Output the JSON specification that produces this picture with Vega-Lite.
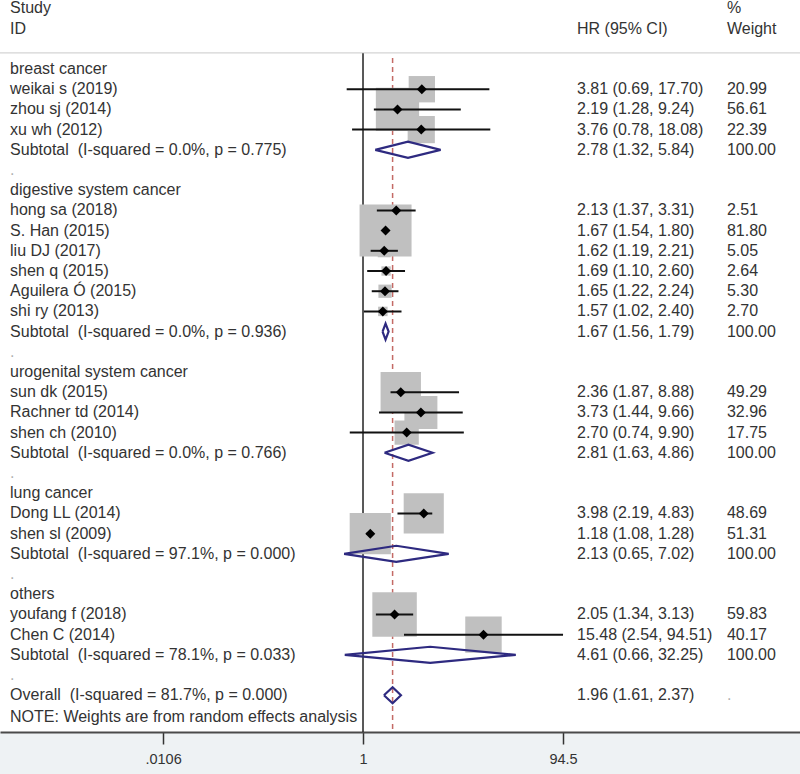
{
  "$schema": "https://vega.github.io/schema/vega-lite/v6.json",
  "width": 800,
  "height": 732,
  "autosize": "none",
  "padding": {"left": 0, "top": 0, "right": 0, "bottom": 42},
  "background": "#eef2f4",
  "view": {"fill": "white", "stroke": null},
  "config": {"font": "Liberation Sans"},
  "datasets": {
    "rows": [
      {"row": -2, "label": "Study", "hr": "", "wt": "%"},
      {"row": -1, "label": "ID", "hr": "HR (95% CI)", "wt": "Weight"},
      {"row": 1, "label": "breast cancer", "hr": "", "wt": ""},
      {"row": 2, "label": "weikai s (2019)", "hr": "3.81 (0.69, 17.70)", "wt": "20.99"},
      {"row": 3, "label": "zhou sj (2014)", "hr": "2.19 (1.28, 9.24)", "wt": "56.61"},
      {"row": 4, "label": "xu wh (2012)", "hr": "3.76 (0.78, 18.08)", "wt": "22.39"},
      {"row": 5, "label": "Subtotal\u00a0 (I-squared = 0.0%, p = 0.775)", "hr": "2.78 (1.32, 5.84)", "wt": "100.00"},
      {"row": 6, "label": ".", "hr": "", "wt": ""},
      {"row": 7, "label": "digestive system cancer", "hr": "", "wt": ""},
      {"row": 8, "label": "hong sa (2018)", "hr": "2.13 (1.37, 3.31)", "wt": "2.51"},
      {"row": 9, "label": "S. Han (2015)", "hr": "1.67 (1.54, 1.80)", "wt": "81.80"},
      {"row": 10, "label": "liu DJ (2017)", "hr": "1.62 (1.19, 2.21)", "wt": "5.05"},
      {"row": 11, "label": "shen q (2015)", "hr": "1.69 (1.10, 2.60)", "wt": "2.64"},
      {"row": 12, "label": "Aguilera Ó (2015)", "hr": "1.65 (1.22, 2.24)", "wt": "5.30"},
      {"row": 13, "label": "shi ry (2013)", "hr": "1.57 (1.02, 2.40)", "wt": "2.70"},
      {"row": 14, "label": "Subtotal\u00a0 (I-squared = 0.0%, p = 0.936)", "hr": "1.67 (1.56, 1.79)", "wt": "100.00"},
      {"row": 15, "label": ".", "hr": "", "wt": ""},
      {"row": 16, "label": "urogenital system cancer", "hr": "", "wt": ""},
      {"row": 17, "label": "sun dk (2015)", "hr": "2.36 (1.87, 8.88)", "wt": "49.29"},
      {"row": 18, "label": "Rachner td (2014)", "hr": "3.73 (1.44, 9.66)", "wt": "32.96"},
      {"row": 19, "label": "shen ch (2010)", "hr": "2.70 (0.74, 9.90)", "wt": "17.75"},
      {"row": 20, "label": "Subtotal\u00a0 (I-squared = 0.0%, p = 0.766)", "hr": "2.81 (1.63, 4.86)", "wt": "100.00"},
      {"row": 21, "label": ".", "hr": "", "wt": ""},
      {"row": 22, "label": "lung cancer", "hr": "", "wt": ""},
      {"row": 23, "label": "Dong LL (2014)", "hr": "3.98 (2.19, 4.83)", "wt": "48.69"},
      {"row": 24, "label": "shen sl (2009)", "hr": "1.18 (1.08, 1.28)", "wt": "51.31"},
      {"row": 25, "label": "Subtotal\u00a0 (I-squared = 97.1%, p = 0.000)", "hr": "2.13 (0.65, 7.02)", "wt": "100.00"},
      {"row": 26, "label": ".", "hr": "", "wt": ""},
      {"row": 27, "label": "others", "hr": "", "wt": ""},
      {"row": 28, "label": "youfang f (2018)", "hr": "2.05 (1.34, 3.13)", "wt": "59.83"},
      {"row": 29, "label": "Chen C (2014)", "hr": "15.48 (2.54, 94.51)", "wt": "40.17"},
      {"row": 30, "label": "Subtotal\u00a0 (I-squared = 78.1%, p = 0.033)", "hr": "4.61 (0.66, 32.25)", "wt": "100.00"},
      {"row": 31, "label": ".", "hr": "", "wt": ""},
      {"row": 32, "label": "Overall\u00a0 (I-squared = 81.7%, p = 0.000)", "hr": "1.96 (1.61, 2.37)", "wt": "."},
      {"row": 33.1, "label": "NOTE: Weights are from random effects analysis", "hr": "", "wt": ""}
    ],
    "studies": [
      {"row": 2, "est": 3.81, "lo": 0.69, "hi": 17.70, "w": 20.99},
      {"row": 3, "est": 2.19, "lo": 1.28, "hi": 9.24, "w": 56.61},
      {"row": 4, "est": 3.76, "lo": 0.78, "hi": 18.08, "w": 22.39},
      {"row": 8, "est": 2.13, "lo": 1.37, "hi": 3.31, "w": 2.51},
      {"row": 9, "est": 1.67, "lo": 1.54, "hi": 1.80, "w": 81.80},
      {"row": 10, "est": 1.62, "lo": 1.19, "hi": 2.21, "w": 5.05},
      {"row": 11, "est": 1.69, "lo": 1.10, "hi": 2.60, "w": 2.64},
      {"row": 12, "est": 1.65, "lo": 1.22, "hi": 2.24, "w": 5.30},
      {"row": 13, "est": 1.57, "lo": 1.02, "hi": 2.40, "w": 2.70},
      {"row": 17, "est": 2.36, "lo": 1.87, "hi": 8.88, "w": 49.29},
      {"row": 18, "est": 3.73, "lo": 1.44, "hi": 9.66, "w": 32.96},
      {"row": 19, "est": 2.70, "lo": 0.74, "hi": 9.90, "w": 17.75},
      {"row": 23, "est": 3.98, "lo": 2.19, "hi": 4.83, "w": 48.69},
      {"row": 24, "est": 1.18, "lo": 1.08, "hi": 1.28, "w": 51.31},
      {"row": 28, "est": 2.05, "lo": 1.34, "hi": 3.13, "w": 59.83},
      {"row": 29, "est": 15.48, "lo": 2.54, "hi": 94.51, "w": 40.17}
    ],
    "diamonds": [
      {"row": 5, "x": 1.32, "pt": "M", "k": 0}, {"row": 5, "x": 2.78, "pt": "T", "k": 1}, {"row": 5, "x": 5.84, "pt": "M", "k": 2}, {"row": 5, "x": 2.78, "pt": "B", "k": 3}, {"row": 5, "x": 1.32, "pt": "M", "k": 4},
      {"row": 14, "x": 1.56, "pt": "M", "k": 0}, {"row": 14, "x": 1.67, "pt": "T", "k": 1}, {"row": 14, "x": 1.79, "pt": "M", "k": 2}, {"row": 14, "x": 1.67, "pt": "B", "k": 3}, {"row": 14, "x": 1.56, "pt": "M", "k": 4},
      {"row": 20, "x": 1.63, "pt": "M", "k": 0}, {"row": 20, "x": 2.81, "pt": "T", "k": 1}, {"row": 20, "x": 4.86, "pt": "M", "k": 2}, {"row": 20, "x": 2.81, "pt": "B", "k": 3}, {"row": 20, "x": 1.63, "pt": "M", "k": 4},
      {"row": 25, "x": 0.65, "pt": "M", "k": 0}, {"row": 25, "x": 2.13, "pt": "T", "k": 1}, {"row": 25, "x": 7.02, "pt": "M", "k": 2}, {"row": 25, "x": 2.13, "pt": "B", "k": 3}, {"row": 25, "x": 0.65, "pt": "M", "k": 4},
      {"row": 30, "x": 0.66, "pt": "M", "k": 0}, {"row": 30, "x": 4.61, "pt": "T", "k": 1}, {"row": 30, "x": 32.25, "pt": "M", "k": 2}, {"row": 30, "x": 4.61, "pt": "B", "k": 3}, {"row": 30, "x": 0.66, "pt": "M", "k": 4},
      {"row": 32, "x": 1.61, "pt": "M", "k": 0}, {"row": 32, "x": 1.96, "pt": "T", "k": 1}, {"row": 32, "x": 2.37, "pt": "M", "k": 2}, {"row": 32, "x": 1.96, "pt": "B", "k": 3}, {"row": 32, "x": 1.61, "pt": "M", "k": 4}
    ]
  },
  "layer": [
    {
      "data": {"values": [{}]},
      "mark": {"type": "rule", "color": "#d4d4d4", "strokeWidth": 1.2},
      "encoding": {
        "y": {"datum": 0.2, "type": "quantitative", "scale": {"domain": [-2.416, 33.82], "reverse": true, "nice": false, "zero": false}, "axis": null}
      }
    },
    {
      "data": {"values": [{}]},
      "mark": {"type": "rule", "color": "#222222", "strokeWidth": 1.5},
      "encoding": {
        "x": {"datum": 1, "type": "quantitative", "scale": {"type": "log", "domain": [0.00026008, 20682], "nice": false},
          "axis": {"values": [0.0106, 1, 94.5], "labelExpr": "datum.value < 0.1 ? '.0106' : (datum.value < 2 ? '1' : '94.5')", "title": null, "grid": false, "tickSize": 12, "tickWidth": 1.5, "tickColor": "#333333", "domainColor": "#4a4a4a", "domainWidth": 2, "labelFont": "Liberation Sans", "labelFontSize": 14.5, "labelColor": "#333333", "labelPadding": 8}},
        "y": {"datum": 0.22, "type": "quantitative", "scale": {"domain": [-2.416, 33.82], "reverse": true, "nice": false, "zero": false}, "axis": null},
        "y2": {"datum": 33.82}
      }
    },
    {
      "data": {"values": [{}]},
      "mark": {"type": "rule", "color": "#c46a66", "strokeWidth": 1.5, "strokeDash": [5, 4]},
      "encoding": {
        "x": {"datum": 1.96, "type": "quantitative"},
        "y": {"datum": 0.45, "type": "quantitative"},
        "y2": {"datum": 33.82}
      }
    },
    {
      "data": {"name": "studies"},
      "mark": {"type": "point", "shape": "square", "filled": true, "color": "#c0c0c0", "opacity": 1},
      "encoding": {
        "x": {"field": "est", "type": "quantitative"},
        "y": {"field": "row", "type": "quantitative"},
        "size": {"field": "w", "type": "quantitative", "scale": {"type": "linear", "domain": [0, 100], "range": [0, 3306]}, "legend": null}
      }
    },
    {
      "data": {"name": "studies"},
      "mark": {"type": "rule", "color": "#111111", "strokeWidth": 2},
      "encoding": {
        "x": {"field": "lo", "type": "quantitative"},
        "x2": {"field": "hi"},
        "y": {"field": "row", "type": "quantitative"}
      }
    },
    {
      "data": {"name": "studies"},
      "mark": {"type": "point", "shape": "diamond", "filled": true, "color": "#000000", "opacity": 1, "size": 100},
      "encoding": {
        "x": {"field": "est", "type": "quantitative"},
        "y": {"field": "row", "type": "quantitative"}
      }
    },
    {
      "data": {"name": "diamonds"},
      "transform": [
        {"calculate": "datum.row + (datum.pt === 'T' ? -0.4 : (datum.pt === 'B' ? 0.4 : 0))", "as": "yv"}
      ],
      "mark": {"type": "line", "color": "#2e2a80", "strokeWidth": 2.2},
      "encoding": {
        "x": {"field": "x", "type": "quantitative"},
        "y": {"field": "yv", "type": "quantitative"},
        "detail": {"field": "row"},
        "order": {"field": "k", "type": "quantitative"}
      }
    },
    {
      "data": {"name": "rows"},
      "mark": {"type": "text", "align": "left", "baseline": "middle", "font": "Liberation Sans", "fontSize": 16},
      "encoding": {
        "x": {"datum": 0.000327, "type": "quantitative"},
        "y": {"field": "row", "type": "quantitative"},
        "text": {"field": "label"},
        "color": {"condition": {"test": "datum.label === '.'", "value": "#b0b0b0"}, "value": "#333333"}
      }
    },
    {
      "data": {"name": "rows"},
      "mark": {"type": "text", "align": "left", "baseline": "middle", "font": "Liberation Sans", "fontSize": 16, "color": "#333333"},
      "encoding": {
        "x": {"datum": 129.8, "type": "quantitative"},
        "y": {"field": "row", "type": "quantitative"},
        "text": {"field": "hr"}
      }
    },
    {
      "data": {"name": "rows"},
      "mark": {"type": "text", "align": "left", "baseline": "middle", "font": "Liberation Sans", "fontSize": 16},
      "encoding": {
        "x": {"datum": 3927, "type": "quantitative"},
        "y": {"field": "row", "type": "quantitative"},
        "text": {"field": "wt"},
        "color": {"condition": {"test": "datum.wt === '.'", "value": "#b0b0b0"}, "value": "#333333"}
      }
    }
  ]
}
